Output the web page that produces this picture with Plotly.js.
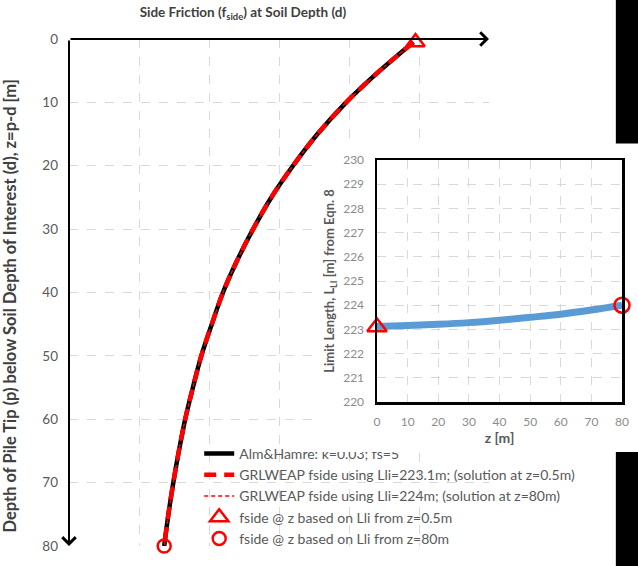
<!DOCTYPE html>
<html>
<head>
<meta charset="utf-8">
<script src="https://cdn.plot.ly/plotly-3.0.1.min.js"></script>
<style>
  body { margin: 0; background: #fff; }
  #mainDiv { position: absolute; left: 0; top: 0; width: 638px; height: 566px; }
  #insetDiv { position: absolute; left: 318px; top: 145px; width: 320px; height: 307px; }
</style>
</head>
<body>
<div id="mainDiv"></div>
<div id="insetDiv"></div>
<script>
// main chart: depth z [m] and side friction
var depth = [0.5, 5, 10, 15, 20, 25, 30, 35, 40, 45, 50, 55, 60, 65, 70, 75, 80];
var fsideAlm = [4.92, 4.44, 3.96, 3.55, 3.20, 2.89, 2.63, 2.40, 2.20, 2.04, 1.89, 1.77, 1.66, 1.57, 1.49, 1.42, 1.36];
var fsideG1 = [4.92, 4.44, 3.96, 3.55, 3.20, 2.89, 2.63, 2.40, 2.20, 2.04, 1.89, 1.77, 1.66, 1.57, 1.49, 1.42, 1.36];
var fsideG2 = [4.92, 4.44, 3.96, 3.55, 3.20, 2.89, 2.63, 2.40, 2.20, 2.04, 1.89, 1.77, 1.66, 1.57, 1.49, 1.42, 1.36];
var triPoint = {x: [4.95], y: [0.5]};
var circPoint = {x: [1.36], y: [80]};

// inset: limit length vs z
var zInset = [0, 10, 20, 30, 40, 50, 60, 70, 80];
var lli = [223.12, 223.16, 223.21, 223.28, 223.38, 223.5, 223.63, 223.8, 224.0];
var insetTri = {x: [0], y: [223.1]};
var insetCirc = {x: [80], y: [224.0]};

var fontFam = 'Lato, "Open Sans", sans-serif';
var red = '#ff0000';
var gridCol = '#d9d9d9';

var data = [
	{x: fsideAlm, y: depth, mode: 'lines', name: 'Alm&Hamre: k=0.03; fs=5',
		line: {color: '#000000', width: 4.5, shape: 'spline'}},
	{x: fsideG1, y: depth, mode: 'lines', name: 'GRLWEAP fside using Lli=223.1m; (solution at z=0.5m)',
		line: {color: red, width: 4.5, dash: '12px,8px', shape: 'spline'}},
	{x: fsideG2, y: depth, mode: 'lines', name: 'GRLWEAP fside using Lli=224m; (solution at z=80m)',
		line: {color: red, width: 1.5, dash: '4px,3px', shape: 'spline'}},
	{x: triPoint.x, y: triPoint.y, mode: 'markers', name: 'fside @ z based on Lli from z=0.5m', cliponaxis: false,
		marker: {symbol: 'triangle-up-open', size: 16, color: red, line: {width: 2.5, color: red}}},
	{x: circPoint.x, y: circPoint.y, mode: 'markers', name: 'fside @ z based on Lli from z=80m', cliponaxis: false,
		marker: {symbol: 'circle-open', size: 13, color: red, line: {width: 2.5, color: red}}}
];

var layout = {
	width: 638,
	height: 566,
	autosize: false,
	paper_bgcolor: '#ffffff',
	plot_bgcolor: '#ffffff',
	font: {family: fontFam, color: '#595959'},
	margin: {l: 69, r: 149, t: 39, b: 18, pad: 0},
	title: {
		text: '<b>Side Friction (f<sub>side</sub>) at Soil Depth (d)</b>',
		font: {size: 13.5, color: '#404040', family: fontFam},
		xref: 'paper', x: 0.414, xanchor: 'center',
		yref: 'container', y: 0.978, yanchor: 'middle'
	},
	xaxis: {
		range: [0, 6], dtick: 1, tick0: 0,
		showticklabels: false, ticks: '',
		showgrid: true, gridcolor: gridCol, griddash: 'dash', gridwidth: 1,
		zeroline: false, showline: false, fixedrange: true
	},
	yaxis: {
		range: [80, 0], dtick: 10, tick0: 0,
		tickfont: {size: 13.5, color: '#595959'},
		ticks: '', ticklabelstandoff: 10,
		showgrid: true, gridcolor: gridCol, griddash: 'dash', gridwidth: 1,
		zeroline: false, showline: false, fixedrange: true
	},
	showlegend: true,
	legend: {
		x: 0.31, xanchor: 'left',
		y: 0.213, yanchor: 'top',
		bgcolor: 'rgba(0,0,0,0)',
		font: {size: 14, color: '#595959', family: fontFam},
		tracegroupgap: 0
	},
	annotations: [
		// y axis title, placed as in the reference
		{xref: 'paper', yref: 'paper', x: -0.14, y: 0.473, xanchor: 'center', yanchor: 'middle',
			textangle: -90, showarrow: false,
			text: '<b>Depth of Pile Tip (p) below Soil Depth of Interest (d), z=p-d [m]</b>',
			font: {size: 16.5, color: '#404040', family: fontFam}},
		{x: 0, y: 80, ax: 0, ay: 0, xref: 'x', yref: 'y', axref: 'x', ayref: 'y', text: '',
			showarrow: true, arrowhead: 4, arrowsize: 1.3, arrowwidth: 2, arrowcolor: '#000000', standoff: 0},
		{x: 6, y: 0, ax: 0, ay: 0, xref: 'x', yref: 'y', axref: 'x', ayref: 'y', text: '',
			showarrow: true, arrowhead: 4, arrowsize: 1.3, arrowwidth: 2, arrowcolor: '#000000', standoff: 0}
	],
	shapes: [
		{type: 'rect', xref: 'paper', yref: 'paper', x0: 1.302, x1: 1.36, y0: 0.794, y1: 1.08,
			fillcolor: '#000000', line: {width: 0}, layer: 'above'},
		{type: 'rect', xref: 'paper', yref: 'paper', x0: 1.302, x1: 1.36, y0: -0.04, y1: 0.189,
			fillcolor: '#000000', line: {width: 0}, layer: 'above'}
	]
};

Plotly.newPlot('mainDiv', data, layout, {displayModeBar: false, staticPlot: true});

var insetData = [
	{x: zInset, y: lli, mode: 'lines', showlegend: false,
		line: {color: '#5b9bd5', width: 7, shape: 'spline'}},
	{x: insetTri.x, y: insetTri.y, mode: 'markers', showlegend: false, cliponaxis: false,
		marker: {symbol: 'triangle-up-open', size: 17, color: red, line: {width: 2.5, color: red}}},
	{x: insetCirc.x, y: insetCirc.y, mode: 'markers', showlegend: false, cliponaxis: false,
		marker: {symbol: 'circle-open', size: 15, color: red, line: {width: 2.5, color: red}}}
];

var insetLayout = {
	width: 320,
	height: 307,
	autosize: false,
	paper_bgcolor: '#ffffff',
	plot_bgcolor: '#ffffff',
	font: {family: fontFam, color: '#8c8c8c'},
	margin: {l: 59, r: 16, t: 15, b: 50, pad: 0},
	showlegend: false,
	xaxis: {
		range: [0, 80], dtick: 10, tick0: 0,
		tickfont: {size: 12, color: '#8c8c8c'},
		ticks: '', ticklabelstandoff: 7,
		showgrid: true, gridcolor: gridCol, griddash: 'dash', gridwidth: 1,
		zeroline: false, showline: true, mirror: true, linecolor: '#000000', linewidth: 2.5,
		fixedrange: true,
		title: {text: '<b>z [m]</b>', font: {size: 14, color: '#595959'}, standoff: 6}
	},
	yaxis: {
		range: [220, 230], dtick: 1, tick0: 220,
		tickfont: {size: 12, color: '#8c8c8c'},
		ticks: '', ticklabelstandoff: 8,
		showgrid: true, gridcolor: gridCol, griddash: 'dash', gridwidth: 1,
		zeroline: false, showline: true, mirror: true, linecolor: '#000000', linewidth: 2.5,
		fixedrange: true,
		title: {text: '<b>Limit Length, L<sub>LI</sub> [m] from Eqn. 8</b>', font: {size: 13, color: '#595959'}, standoff: 6}
	}
};

Plotly.newPlot('insetDiv', insetData, insetLayout, {displayModeBar: false, staticPlot: true});
</script>
</body>
</html>
